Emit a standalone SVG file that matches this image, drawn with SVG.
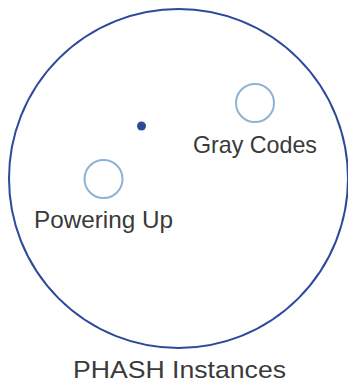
<svg xmlns="http://www.w3.org/2000/svg" width="348" height="382" viewBox="0 0 348 382">
<style>
.lbl{font-family:"Liberation Sans","DejaVu Sans",sans-serif;font-size:24px;fill:#3a3a3a;text-anchor:middle}
.small{fill:none;stroke:#8db3d6;stroke-width:2}
</style>
<rect width="348" height="382" fill="#fff"/>
<g id="phash">
<circle cx="178.5" cy="178.5" r="169.5" fill="none" stroke="#2c4a98" stroke-width="2"/>
<text class="lbl" x="179.5" y="378" textLength="213" lengthAdjust="spacingAndGlyphs">PHASH Instances</text>
</g>
<g id="center">
<circle cx="141.5" cy="126" r="4.5" fill="#2c4a98"/>
</g>
<g id="gray">
<circle class="small" cx="255" cy="103" r="19"/>
<text class="lbl" x="255" y="153" textLength="124" lengthAdjust="spacingAndGlyphs">Gray Codes</text>
</g>
<g id="power">
<circle class="small" cx="103.5" cy="179" r="19"/>
<text class="lbl" x="103.5" y="228" textLength="139" lengthAdjust="spacingAndGlyphs">Powering Up</text>
</g>
<g id="connectors"/>
</svg>
